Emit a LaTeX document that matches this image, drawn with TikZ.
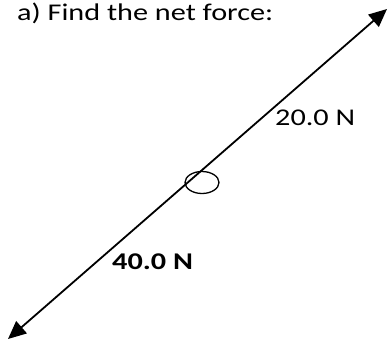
\documentclass[tikz,border=0pt]{standalone}
\usepackage{fontspec}
\setmainfont{Carlito}
\usetikzlibrary{arrows.meta,shapes.geometric}
\newcommand{\wide}[1]{\scalebox{1.26}[1]{#1}}

\begin{document}
\begin{tikzpicture}[
  x=1pt, y=-1pt,
  lbl/.style={inner sep=0pt, font=\fontsize{24}{28}\selectfont},
  force/.style={line width=1.8pt,
    {Triangle[length=18pt,width=16pt]}-{Triangle[length=18pt,width=16pt]}},
  ring/.style={draw, line width=1.3pt, ellipse, minimum width=34pt, minimum height=22pt, inner sep=0pt}
]
\useasboundingbox (0,0) rectangle (388,341);

% --- question ---
\node[lbl, anchor=base west] (title) at (17,20) {\wide{a) Find the net force:}};

% --- object and forces ---
\coordinate (tip) at (387,9);
\coordinate (tail) at (8,339);
\draw[force] (tail) -- (tip);
\node[ring] (body) at (202,182.5) {};

\node[lbl, anchor=base west] (upper) at (275,125) {\wide{20.0 N}};
\node[lbl, anchor=base west, font=\fontsize{24}{28}\selectfont\bfseries] (lower) at (112,269) {\wide{40.0 N}};

\end{tikzpicture}
\end{document}
